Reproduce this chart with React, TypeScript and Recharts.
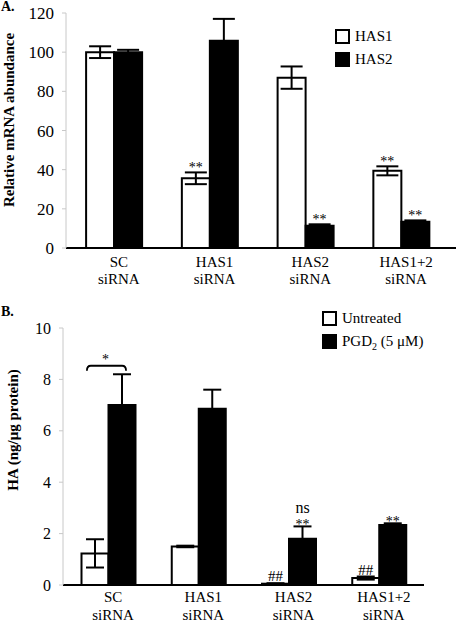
import React from 'react';
import { BarChart, Bar, XAxis, YAxis, ErrorBar, LabelList, Legend } from 'recharts';

const FONT = '"Liberation Serif", "Times New Roman", serif';

const categories = ['SC siRNA', 'HAS1 siRNA', 'HAS2 siRNA', 'HAS1+2 siRNA'];

// A. relative mRNA abundance
const seriesA = ['HAS1', 'HAS2'];
const has1Values = [100, 35.6, 87, 39.4];
const has1Errors = [3, 3, 5.7, 2.3];
const has1Marks = ['', '**', '', '**'];
const has2Values = [100, 105.8, 11.4, 13.4];
const has2Errors = [1.2, 11.2, 0.7, 0.7];
const has2Marks = ['', '', '**', '**'];
const ticksA = [0, 20, 40, 60, 80, 100, 120];

// B. HA (ng/ug protein)
const seriesB = ['Untreated', 'PGD2 (5 μM)'];
const untreatedValues = [1.23, 1.5, 0.05, 0.27];
const untreatedErrors = [0.55, 0.03, 0.02, 0.06];
const untreatedMarks = ['', '', '##', '##'];
const pgdValues = [7.0, 6.86, 1.8, 2.33];
const pgdErrors = [1.2, 0.74, 0.48, 0.07];
const pgdMarks = ['', '', '**', '**'];
const pgdNotes = ['', '', 'ns', ''];
const pgdBracket = ['*', '', '', ''];
const ticksB = [0, 2, 4, 6, 8, 10];

const dataA = categories.map((name, i) => ({
  name,
  has1: has1Values[i],
  has1Err: has1Errors[i],
  has1Mark: has1Marks[i],
  has2: has2Values[i],
  has2Err: has2Errors[i],
  has2Mark: has2Marks[i],
}));

const dataB = categories.map((name, i) => ({
  name,
  untreated: untreatedValues[i],
  untreatedErr: untreatedErrors[i],
  untreatedMark: untreatedMarks[i],
  pgd: pgdValues[i],
  pgdErr: pgdErrors[i],
  pgdMark: pgdMarks[i],
  pgdNote: pgdNotes[i],
  pgdBracket: pgdBracket[i],
}));

// top of the error bar, from the bar's own pixel size
const errorTop = (vb: any, value: number, err: number) => {
  const perUnit = value ? vb.height / value : 0;
  return vb.y - err * perUnit;
};

const markLabel = (values: number[], errors: number[], size: number, lift: number) => (props: any) => {
  const { index, value } = props;
  if (!value) return null;
  const vb = props.viewBox ?? props;
  const top = errorTop(vb, values[index], errors[index]);
  return (
    <text x={vb.x + vb.width / 2} y={top - lift} textAnchor="middle" fontFamily={FONT} fontSize={size} fill="#000">
      {value}
    </text>
  );
};

const bracketLabel = (props: any) => {
  const { index, value } = props;
  if (!value) return null;
  const vb = props.viewBox ?? props;
  const top = errorTop(vb, pgdValues[index], pgdErrors[index]);
  const left = vb.x - vb.width * 0.8;
  const right = vb.x + vb.width * 0.65;
  const yTop = top - 8.5;
  const yEnd = top - 3.5;
  return (
    <g>
      <path
        d={`M${left},${yEnd} Q${left},${yTop} ${left + 4},${yTop} L${right - 4},${yTop} Q${right},${yTop} ${right},${yEnd}`}
        fill="none"
        stroke="#000"
        strokeWidth={1.8}
      />
      <text x={vb.x - 3} y={top - 10} textAnchor="middle" fontFamily={FONT} fontSize={14} fill="#000">
        {value}
      </text>
    </g>
  );
};

const CategoryTick = (props: any) => {
  const { x, y, payload, first, step } = props;
  const [top, bottom] = String(payload.value).split(' ');
  const cx = x + 5;
  return (
    <text x={cx} y={y} textAnchor="middle" fontFamily={FONT} fontSize={15} fill="#000">
      <tspan x={cx} dy={first}>{top}</tspan>
      <tspan x={cx} dy={step}>{bottom}</tspan>
    </text>
  );
};

const seriesLabel = (name: string) =>
  name.startsWith('PGD2') ? (
    <>
      PGD<sub style={{ fontSize: 10, lineHeight: 0 }}>2</sub>
      {name.slice(4)}
    </>
  ) : (
    name
  );

const renderLegend = (props: any) => (
  <div style={{ fontFamily: FONT, fontSize: 15, color: '#000' }}>
    {(props.payload ?? []).map((entry: any) => (
      <div key={entry.value} style={{ display: 'flex', alignItems: 'center', height: 23.5 }}>
        <span
          style={{
            display: 'inline-block',
            width: 11,
            height: 11,
            border: '2px solid #000',
            background: entry.color,
            marginRight: 5,
          }}
        />
        <span>{seriesLabel(entry.value)}</span>
      </div>
    ))}
  </div>
);

const yTitle = (text: string, x: number, y: number) => () => (
  <text
    x={x}
    y={y}
    transform={`rotate(-90, ${x}, ${y})`}
    textAnchor="middle"
    fontFamily={FONT}
    fontWeight="bold"
    fontSize={15}
    fill="#000"
  >
    {text}
  </text>
);

const panelTag = (top: number): React.CSSProperties => ({
  position: 'absolute',
  left: 1,
  top,
  fontFamily: FONT,
  fontWeight: 'bold',
  fontSize: 14,
  lineHeight: '14px',
});

export default function App() {
  return (
    <div style={{ position: 'absolute', left: 0, top: 0, width: 458, height: 622, background: '#fff' }}>
      <div style={{ position: 'absolute', left: 0, top: 0 }}>
        <BarChart
          width={458}
          height={300}
          data={dataA}
          margin={{ top: 13, right: 2, left: 0, bottom: 0 }}
          barGap={0}
          barCategoryGap="21%"
        >
          <XAxis
            dataKey="name"
            height={52}
            padding={{ left: 0, right: 7 }}
            axisLine={{ stroke: '#000', strokeWidth: 2 }}
            tickLine={false}
            tickSize={0}
            tickMargin={0}
            interval={0}
            tick={<CategoryTick first={18.7} step={17.6} />}
          />
          <YAxis
            width={66}
            domain={[0, 120]}
            ticks={ticksA}
            interval={0}
            axisLine={{ stroke: '#c8c8c8' }}
            tickLine={{ stroke: '#c8c8c8' }}
            tickSize={4}
            tickMargin={8}
            tick={{ fill: '#000', fontSize: 17, fontFamily: FONT }}
            label={yTitle('Relative mRNA abundance', 13.5, 120)}
          />
          <Legend
            layout="horizontal"
            verticalAlign="middle"
            align="center"
            content={renderLegend}
            itemSorter={(item: any) => seriesA.indexOf(item.value)}
            wrapperStyle={{ top: 24.5, left: 335, width: 110, height: 50 }}
          />
          <Bar dataKey="has1" name={seriesA[0]} fill="#fff" stroke="#000" strokeWidth={2} isAnimationActive={false}>
            <ErrorBar dataKey="has1Err" width={11} stroke="#000" strokeWidth={2} />
            <LabelList dataKey="has1Mark" content={markLabel(has1Values, has1Errors, 14, 0)} />
          </Bar>
          <Bar dataKey="has2" name={seriesA[1]} fill="#000" stroke="#000" strokeWidth={2} isAnimationActive={false}>
            <ErrorBar dataKey="has2Err" width={11} stroke="#000" strokeWidth={2} />
            <LabelList dataKey="has2Mark" content={markLabel(has2Values, has2Errors, 14, 0)} />
          </Bar>
        </BarChart>
      </div>
      <div style={panelTag(0)}>A.</div>

      <div style={{ position: 'absolute', left: 0, top: 300 }}>
        <BarChart
          width={458}
          height={322}
          data={dataB}
          margin={{ top: 28, right: 34, left: 0, bottom: 0 }}
          barGap={0}
          barCategoryGap="20.5%"
        >
          <XAxis
            dataKey="name"
            height={37}
            axisLine={{ stroke: '#000', strokeWidth: 2 }}
            tickLine={false}
            tickSize={0}
            tickMargin={0}
            interval={0}
            tick={<CategoryTick first={17.3} step={17.7} />}
          />
          <YAxis
            width={63}
            domain={[0, 10]}
            ticks={ticksB}
            interval={0}
            axisLine={{ stroke: '#c8c8c8' }}
            tickLine={{ stroke: '#c8c8c8' }}
            tickSize={4}
            tickMargin={8}
            tick={{ fill: '#000', fontSize: 16, fontFamily: FONT }}
            label={yTitle('HA (ng/μg protein)', 18, 130)}
          />
          <Legend
            layout="horizontal"
            verticalAlign="middle"
            align="center"
            content={renderLegend}
            itemSorter={(item: any) => seriesB.indexOf(item.value)}
            wrapperStyle={{ top: 6.5, left: 322, width: 130, height: 50 }}
          />
          <Bar dataKey="untreated" name={seriesB[0]} fill="#fff" stroke="#000" strokeWidth={2} isAnimationActive={false}>
            <ErrorBar dataKey="untreatedErr" width={9} stroke="#000" strokeWidth={2} />
            <LabelList dataKey="untreatedMark" content={markLabel(untreatedValues, untreatedErrors, 15, 2)} />
          </Bar>
          <Bar dataKey="pgd" name={seriesB[1]} fill="#000" stroke="#000" strokeWidth={2} isAnimationActive={false}>
            <ErrorBar dataKey="pgdErr" width={9} stroke="#000" strokeWidth={2} />
            <LabelList dataKey="pgdMark" content={markLabel(pgdValues, pgdErrors, 14, -2.5)} />
            <LabelList dataKey="pgdNote" content={markLabel(pgdValues, pgdErrors, 16, 13.5)} />
            <LabelList dataKey="pgdBracket" content={bracketLabel} />
          </Bar>
        </BarChart>
      </div>
      <div style={panelTag(305)}>B.</div>
    </div>
  );
}
